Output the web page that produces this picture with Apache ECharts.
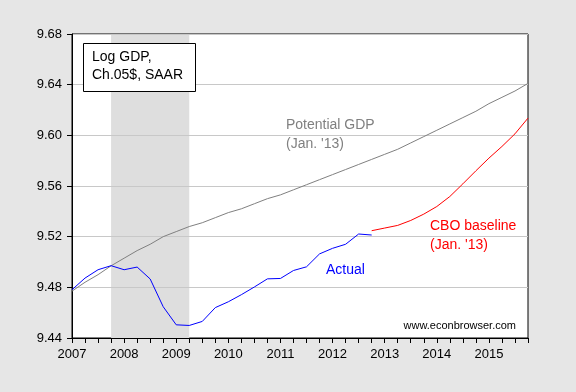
<!DOCTYPE html>
<html>
<head>
<meta charset="utf-8">
<script src="https://cdn.jsdelivr.net/npm/echarts@6/dist/echarts.min.js"></script>
<style>
html,body{margin:0;padding:0;background:#e6e6e6;}
#chart{width:576px;height:392px;}
</style>
</head>
<body>
<div id="chart"></div>
<script>
// Quarterly observations, 2007Q1 - 2015Q4
var quarters = [
  '2007Q1','2007Q2','2007Q3','2007Q4','2008Q1','2008Q2','2008Q3','2008Q4',
  '2009Q1','2009Q2','2009Q3','2009Q4','2010Q1','2010Q2','2010Q3','2010Q4',
  '2011Q1','2011Q2','2011Q3','2011Q4','2012Q1','2012Q2','2012Q3','2012Q4',
  '2013Q1','2013Q2','2013Q3','2013Q4','2014Q1','2014Q2','2014Q3','2014Q4',
  '2015Q1','2015Q2','2015Q3','2015Q4'
];
// Actual log GDP (2007Q1 - 2012Q4)
var actualGDP = [
  9.4781, 9.4873, 9.4939, 9.4971, 9.4939, 9.4960, 9.4866, 9.4647,
  9.4504, 9.4499, 9.4531, 9.4640, 9.4686, 9.4742, 9.4803, 9.4867,
  9.4870, 9.4933, 9.4962, 9.5064, 9.5108, 9.5140, 9.5221, 9.5213
];
// CBO potential GDP (Jan. '13), 2007Q1 - 2015Q4
var potentialGDP = [
  9.477, 9.484, 9.490, 9.497, 9.503, 9.509, 9.514, 9.520,
  9.524, 9.528, 9.531, 9.535, 9.539, 9.542, 9.546, 9.550,
  9.553, 9.557, 9.561, 9.565, 9.569, 9.573, 9.577, 9.581,
  9.585, 9.589, 9.594, 9.599, 9.604, 9.609, 9.614, 9.619,
  9.625, 9.630, 9.635, 9.641
];
// CBO baseline projection (Jan. '13), 2012Q4 - 2015Q4
var cboStart = '2012Q4';
var cboBaseline = [
  9.5247, 9.5268, 9.5289, 9.5328, 9.5378, 9.5438, 9.5517,
  9.5617, 9.5720, 9.5820, 9.5912, 9.6012, 9.6136
];
// Recession (NBER) shading
var recession = ['2007Q4', '2009Q2'];
// Axis ticks
var yMin = 9.44, yMax = 9.68, yStep = 0.04;

var startIdx = quarters.indexOf(cboStart);
var cboData = cboBaseline.map(function (v, i) { return [quarters[startIdx + i], v]; });

var FONT = '"Liberation Sans", Arial, sans-serif';
var chart = echarts.init(document.getElementById('chart'), null, {renderer: 'canvas'});

chart.setOption({
  backgroundColor: '#e6e6e6',
  animation: false,
  grid: {
    left: 72, right: 48, top: 34, bottom: 54, z: 0,
    show: true, backgroundColor: '#ffffff',
    borderColor: '#000000', borderWidth: 1
  },
  xAxis: {
    type: 'category',
    data: quarters,
    boundaryGap: false,
    z: 2,
    axisLine: {lineStyle: {color: '#000000', width: 1}},
    axisTick: {show: true, interval: 0, length: 5, inside: false, lineStyle: {color: '#000000'}},
    axisLabel: {
      interval: 3, margin: 10, color: '#000000', fontFamily: FONT, fontSize: 13,
      formatter: function (v) { return v.slice(0, 4); }
    },
    splitLine: {show: false}
  },
  yAxis: {
    type: 'value',
    min: yMin, max: yMax, interval: yStep,
    z: 2,
    axisLine: {show: true, lineStyle: {color: '#000000', width: 1}},
    axisTick: {show: true, length: 5, lineStyle: {color: '#000000'}},
    axisLabel: {
      margin: 10, color: '#000000', fontFamily: FONT, fontSize: 13,
      formatter: function (v) { return v.toFixed(2); }
    },
    splitLine: {show: true, lineStyle: {color: '#c8c8c8', width: 1}}
  },
  series: [
    {
      name: 'recession', type: 'line', data: [], z: 1, silent: true,
      markArea: {
        silent: true,
        itemStyle: {color: '#dedede'},
        data: [[{xAxis: recession[0]}, {xAxis: recession[1]}]]
      }
    },
    {
      name: 'Potential GDP', type: 'line', data: potentialGDP,
      showSymbol: false, symbol: 'none',
      lineStyle: {color: '#808080', width: 1}, z: 3
    },
    {
      name: 'CBO baseline', type: 'line', data: cboData,
      showSymbol: false, symbol: 'none',
      lineStyle: {color: '#ff0000', width: 1}, z: 4
    },
    {
      name: 'Actual', type: 'line', data: actualGDP,
      showSymbol: false, symbol: 'none',
      lineStyle: {color: '#0000ff', width: 1}, z: 5
    }
  ],
  graphic: [
    {
      type: 'rect', z: 100,
      shape: {x: 83.5, y: 43.5, width: 112, height: 48},
      style: {fill: '#ffffff', stroke: '#000000', lineWidth: 1}
    },
    {type: 'text', z: 101, style: {text: 'Log GDP,', x: 92, y: 57.5, textVerticalAlign: 'middle', font: '14px ' + FONT, fill: '#000000'}},
    {type: 'text', z: 101, style: {text: 'Ch.05$, SAAR', x: 92, y: 75.5, textVerticalAlign: 'middle', font: '14px ' + FONT, fill: '#000000'}},
    {type: 'text', z: 101, style: {text: 'Potential GDP', x: 286, y: 125, textVerticalAlign: 'middle', font: '14px ' + FONT, fill: '#808080'}},
    {type: 'text', z: 101, style: {text: "(Jan. '13)", x: 286, y: 144, textVerticalAlign: 'middle', font: '14px ' + FONT, fill: '#808080'}},
    {type: 'text', z: 101, style: {text: 'CBO baseline', x: 430, y: 226, textVerticalAlign: 'middle', font: '14px ' + FONT, fill: '#ff0000'}},
    {type: 'text', z: 101, style: {text: "(Jan. '13)", x: 430, y: 245, textVerticalAlign: 'middle', font: '14px ' + FONT, fill: '#ff0000'}},
    {type: 'text', z: 101, style: {text: 'Actual', x: 326, y: 270, textVerticalAlign: 'middle', font: '14px ' + FONT, fill: '#0000ff'}},
    {type: 'text', z: 101, style: {text: 'www.econbrowser.com', x: 516, y: 326, textAlign: 'right', textVerticalAlign: 'middle', font: '11px ' + FONT, fill: '#000000'}}
  ]
});
</script>
</body>
</html>
